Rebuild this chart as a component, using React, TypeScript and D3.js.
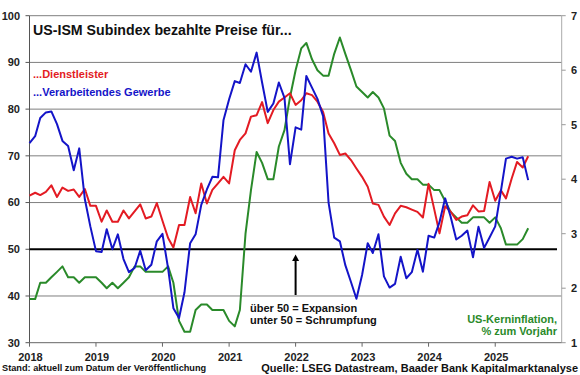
import React from "react";
import * as d3 from "d3";

const W = 580;
const H = 375;

// Monthly data, Jan 2018 .. Jul 2025
const startYear = 2018;
const manufacturing = [
  72.7, 74.2, 78.1, 79.3, 79.5, 76.8, 73.2, 72.1, 66.9, 71.6, 60.7, 54.9,
  49.6, 49.4, 54.3, 50.0, 53.2, 47.9, 45.1, 46.0, 49.7, 45.5, 46.7, 51.7,
  53.3, 45.9, 37.4, 35.3, 40.8, 51.3, 53.2, 59.5, 62.8, 65.5, 65.4, 77.6,
  82.1, 86.0, 85.6, 89.6, 88.0, 92.1, 85.7, 79.4, 81.2, 85.7, 82.4, 68.2,
  76.1, 75.6, 87.1, 84.6, 82.2, 78.5, 60.0, 52.5, 51.7, 46.6, 43.0, 39.4,
  44.5, 51.3, 49.2, 53.2, 44.2, 41.8, 42.6, 48.4, 43.8, 45.1, 49.9, 45.2,
  52.9, 52.5, 55.8, 60.9, 57.0, 52.1, 52.9, 54.0, 48.3, 54.8, 50.3, 52.5,
  54.9, 62.4, 69.4, 69.8, 69.4, 69.7, 64.8,
];
const services = [
  61.5, 62.1, 61.6, 62.3, 63.7, 61.2, 63.2, 62.5, 62.8, 61.2, 62.9, 59.3,
  59.3, 55.9, 58.3, 55.9, 55.9, 58.3, 56.6, 58.1, 59.6, 56.6, 57.0, 59.9,
  56.1, 52.4, 50.4, 55.2, 55.2, 61.2, 57.7, 64.1, 59.8, 62.7, 64.1, 65.5,
  64.1, 71.2, 73.4, 74.8, 78.4, 78.7, 81.5, 77.0, 79.8, 81.6, 82.5, 83.4,
  80.9, 81.9, 83.4, 83.0, 81.6, 79.4, 74.8, 72.7, 70.2, 70.5, 69.1, 67.3,
  65.5, 63.4, 59.8, 59.5, 57.0, 55.2, 57.7, 59.3, 59.0, 58.5, 58.0, 56.8,
  64.0, 58.6, 53.4, 59.2, 58.1, 56.3, 57.0, 57.3, 59.4, 58.1, 58.2, 64.4,
  60.4, 62.6, 60.9, 65.1, 68.7, 67.5, 69.9,
];
const coreCpi = [
  1.8, 1.8, 2.1, 2.1, 2.2, 2.3, 2.4, 2.2, 2.2, 2.1, 2.2, 2.2,
  2.2, 2.1, 2.0, 2.1, 2.0, 2.1, 2.2, 2.4, 2.4, 2.3, 2.3, 2.3,
  2.3, 2.4, 2.1, 1.4, 1.2, 1.2, 1.6, 1.7, 1.7, 1.6, 1.6, 1.6,
  1.4, 1.3, 1.6, 3.0, 3.8, 4.5, 4.3, 4.0, 4.0, 4.6, 4.9, 5.5,
  6.0, 6.4, 6.5, 6.2, 6.0, 5.9, 5.9, 6.3, 6.6, 6.3, 6.0, 5.7,
  5.6, 5.5, 5.6, 5.5, 5.3, 4.8, 4.7, 4.3, 4.1, 4.0, 4.0, 3.9,
  3.9, 3.8, 3.8, 3.6, 3.4, 3.3, 3.2, 3.2, 3.3, 3.3, 3.3, 3.2,
  3.3, 3.1, 2.8, 2.8, 2.8, 2.9, 3.1,
];
const leftTicks = [30, 40, 50, 60, 70, 80, 90, 100];
const rightTicks = [1, 2, 3, 4, 5, 6, 7];
const yearLabels = ["2018", "2019", "2020", "2021", "2022", "2023", "2024", "2025"];

const title = "US-ISM Subindex bezahlte Preise für...";
const legendServices = "...Dienstleister";
const legendManufacturing = "...Verarbeitendes Gewerbe";
const noteLines = ["über 50 = Expansion", "unter 50 = Schrumpfung"];
const cpiLabel = ["US-Kerninflation,", "% zum Vorjahr"];
const footLeft = "Stand: aktuell zum Datum der Veröffentlichung";
const footRight = "Quelle: LSEG Datastream, Baader Bank Kapitalmarktanalyse";

const RED = "#e31b23";
const BLUE = "#1414c8";
const GREEN = "#2a8a2a";
const GRID = "#7f7f7f";
const FONT = "'Liberation Sans', Arial, sans-serif";

export default function App() {
  const x0 = 29.5;
  const x1 = 561.7;
  const yTop = 15.7;
  const yBot = 342.7;

  const x = d3
    .scaleTime()
    .domain([new Date(startYear, 0, 1), new Date(startYear + 8, 0, 1)])
    .range([x0, x1]);
  const yL = d3.scaleLinear().domain([30, 100]).range([yBot, yTop]);
  const yR = d3.scaleLinear().domain([1, 7]).range([yBot, yTop]);
  const date = (i: number) => new Date(startYear, i, 1);

  const lineL = d3
    .line<number>()
    .x((_, i) => x(date(i)))
    .y((d) => yL(d));
  const lineR = d3
    .line<number>()
    .x((_, i) => x(date(i)))
    .y((d) => yR(d));

  const arrowX = x(new Date(2022, 0, 1));

  return (
    <svg
      width={W}
      height={H}
      style={{ position: "absolute", left: 0, top: 0, background: "#fff" }}
      fontFamily={FONT}
      fontWeight="bold"
    >
      <rect width={W} height={H} fill="#fff" />
      {/* gridlines */}
      {leftTicks
        .filter((t) => t !== 30 && t !== 50)
        .map((t) => (
          <line key={t} x1={x0} x2={x1} y1={yL(t)} y2={yL(t)} stroke={GRID} strokeWidth={1} />
        ))}
      {/* axes */}
      <line x1={x0} x2={x0} y1={yTop} y2={yBot} stroke="#555" strokeWidth={1} />
      <line x1={x1} x2={x1} y1={yTop} y2={yBot} stroke="#aaa" strokeWidth={1} />
      <line x1={x0} x2={x1} y1={yBot} y2={yBot} stroke="#666" strokeWidth={1} />
      {leftTicks.map((t) => (
        <g key={t}>
          <line x1={x0 - 4} x2={x0} y1={yL(t)} y2={yL(t)} stroke="#555" />
          <text x={20} y={yL(t)} dy="0.35em" textAnchor="end" fontSize={11} fill="#222">
            {t}
          </text>
        </g>
      ))}
      {rightTicks.map((t) => (
        <g key={t}>
          <line x1={x1} x2={x1 + 4} y1={yR(t)} y2={yR(t)} stroke="#999" />
          <text x={571} y={yR(t)} dy="0.35em" textAnchor="start" fontSize={11} fill="#222">
            {t}
          </text>
        </g>
      ))}
      {yearLabels.map((l, i) => {
        const xx = x(new Date(startYear + i, 0, 1));
        return (
          <g key={l}>
            <line x1={xx} x2={xx} y1={yBot} y2={yBot + 4} stroke="#666" />
            <text x={xx + 1} y={361} textAnchor="middle" fontSize={11} fill="#222">
              {l}
            </text>
          </g>
        );
      })}
      {/* 50 line */}
      <line x1={x0} x2={557} y1={yL(50)} y2={yL(50)} stroke="#000" strokeWidth={2} />

      {/* series */}
      <path d={lineR(coreCpi) ?? ""} fill="none" stroke={GREEN} strokeWidth={2} strokeLinejoin="round" />
      <path d={lineL(services) ?? ""} fill="none" stroke={RED} strokeWidth={2} strokeLinejoin="round" />
      <path d={lineL(manufacturing) ?? ""} fill="none" stroke={BLUE} strokeWidth={2} strokeLinejoin="round" />

      {/* title & legend */}
      <text x={33} y={35} fontSize={14.2} fill="#111">
        {title}
      </text>
      <text x={33} y={78} fontSize={11} fill={RED}>
        {legendServices}
      </text>
      <text x={33} y={96} fontSize={11} fill={BLUE}>
        {legendManufacturing}
      </text>

      {/* arrow annotation */}
      <line x1={arrowX} x2={arrowX} y1={295} y2={259} stroke="#000" strokeWidth={2} />
      <path d={`M${arrowX},254.5 L${arrowX - 3.5},261 L${arrowX + 3.5},261 Z`} fill="#000" />
      {noteLines.map((l, i) => (
        <text key={l} x={250} y={311.5 + i * 12} fontSize={11} fill="#111">
          {l}
        </text>
      ))}
      {cpiLabel.map((l, i) => (
        <text key={l} x={557} y={323 + i * 12} fontSize={11} fill={GREEN} textAnchor="end">
          {l}
        </text>
      ))}

      {/* footer */}
      <text x={2} y={371} fontSize={9.2} fill="#111">
        {footLeft}
      </text>
      <text x={578} y={372} fontSize={11} fill="#111" textAnchor="end">
        {footRight}
      </text>
    </svg>
  );
}
